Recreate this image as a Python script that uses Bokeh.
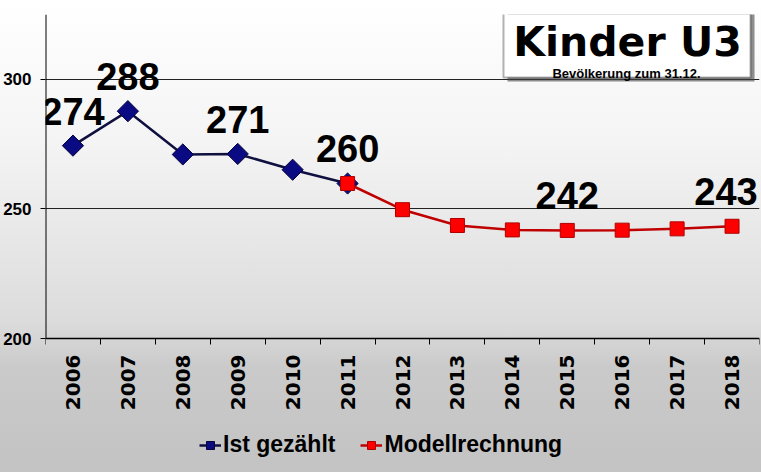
import math
from bokeh.plotting import figure
from bokeh.models import (ColumnDataSource, FixedTicker, Legend, LegendItem,
                          BoxAnnotation, Label, LabelSet, Range1d)
from bokeh.core.properties import value
from bokeh.embed import file_html
from bokeh.resources import INLINE

# ---------------- data ----------------
years_ist = [2006, 2007, 2008, 2009, 2010, 2011]
ist_values = [274.4, 287.7, 271.0, 271.2, 265.1, 259.8]

years_model = [2011, 2012, 2013, 2014, 2015, 2016, 2017, 2018]
model_values = [259.8, 249.7, 243.6, 241.9, 241.7, 241.8, 242.3, 243.3]

label_years = [2006, 2007, 2009, 2011, 2015, 2018]
label_x_offsets = [0, 0, 0, 0, 0, -6]

all_years = [2006, 2007, 2008, 2009, 2010, 2011, 2012,
             2013, 2014, 2015, 2016, 2017, 2018]
y_ticks = [200, 250, 300]
y_grid = [250, 300, 325]
y_axis_min = 200
y_axis_max = 325

title_text = "Kinder U3"
subtitle_text = "Bevölkerung zum 31.12."
legend_ist = "Ist gezählt"
legend_model = "Modellrechnung"

# ---------------- layout ----------------
W, H = 761, 472
top_border = 14
axis_y_px = 338                      # pixel row of the category axis
frame_px = H - top_border            # frame reaches to the bottom of the canvas
plot_px = axis_y_px - top_border
y_low = y_axis_max - (y_axis_max - y_axis_min) * frame_px / plot_px
x0 = all_years[0] - 0.5
x1 = all_years[-1] + 0.5

p = figure(width=W, height=H, output_backend="svg", toolbar_location=None,
           x_range=Range1d(x0, x1), y_range=Range1d(y_low, y_axis_max),
           min_border_left=44, min_border_right=2, min_border_top=top_border,
           min_border_bottom=0)
p.styles = {"background": "linear-gradient(180deg, #ffffff 0%, #f4f4f4 30%, "
                          "#dcdcdc 68%, #cacaca 78%, #c3c3c3 100%)"}
p.background_fill_alpha = 0
p.border_fill_alpha = 0
p.outline_line_color = None

# x axis placed at y = 200 inside the frame
p.xaxis.fixed_location = y_axis_min
p.xaxis.ticker = FixedTicker(ticks=all_years,
                             minor_ticks=[y - 0.5 for y in all_years] + [x1])
p.xaxis.major_tick_line_color = None
p.xaxis.minor_tick_out = 6
p.xaxis.minor_tick_in = 0
p.xaxis.minor_tick_line_color = "black"
p.xaxis.major_label_orientation = math.pi / 2
p.xaxis.major_label_text_font = "DejaVu Sans"
p.xaxis.major_label_text_font_style = "bold"
p.xaxis.major_label_text_font_size = "20px"
p.xaxis.major_label_text_color = "black"
p.xaxis.major_label_standoff = 10
p.xaxis.axis_line_color = "black"
p.xaxis.axis_line_width = 1.5

p.yaxis.ticker = FixedTicker(ticks=y_ticks)
p.yaxis.major_tick_out = 5
p.yaxis.major_tick_in = 0
p.yaxis.major_tick_line_color = "black"
p.yaxis.minor_tick_line_color = None
p.yaxis.major_label_text_font = "Liberation Sans"
p.yaxis.major_label_text_font_style = "bold"
p.yaxis.major_label_text_font_size = "17px"
p.yaxis.major_label_text_color = "black"
p.yaxis.major_label_standoff = 9
p.yaxis.axis_line_color = None

# visible y axis line only between 200 and 325
p.segment(x0=[x0], y0=[y_axis_min], x1=[x0], y1=[y_axis_max],
          line_color="black", line_width=2)

p.xgrid.grid_line_color = None
p.ygrid.ticker = FixedTicker(ticks=y_grid)
p.ygrid.grid_line_color = "#222222"
p.ygrid.grid_line_width = 1.2

# series
src_ist = ColumnDataSource(dict(x=years_ist, y=ist_values))
src_model = ColumnDataSource(dict(x=years_model, y=model_values))

l1 = p.line("x", "y", source=src_ist, line_color="#101040", line_width=2.5)
s1 = p.scatter("x", "y", source=src_ist, marker="square", angle=math.pi / 4,
               size=15, fill_color="#0a0a82", line_color="#05053a", line_width=1)
l2 = p.line("x", "y", source=src_model, line_color="#c00000", line_width=2.5)
s2 = p.scatter("x", "y", source=src_model, marker="square", size=14,
               fill_color="#ff0000", line_color="#b00000", line_width=1)

# data labels
lookup = dict(zip(years_ist, ist_values))
lookup.update(dict(zip(years_model[1:], model_values[1:])))
lab_vals = [lookup[y] for y in label_years]
src_lab = ColumnDataSource(dict(x=label_years, y=lab_vals,
                                t=[str(int(round(v))) for v in lab_vals],
                                xo=label_x_offsets))
p.add_layout(LabelSet(x="x", y="y", text="t", source=src_lab, x_offset="xo",
                      y_offset=21, text_align="center", text_baseline="alphabetic",
                      text_font=value("Liberation Sans"), text_font_style="bold",
                      text_font_size="38px", text_color="black"))

# title box
p.add_layout(BoxAnnotation(left=507, right=754, top=4, bottom=81,
                           left_units="canvas", right_units="canvas",
                           top_units="canvas", bottom_units="canvas",
                           fill_color="#444444", fill_alpha=0.6, line_color=None))
p.add_layout(BoxAnnotation(left=503, right=750, top=0, bottom=77,
                           left_units="canvas", right_units="canvas",
                           top_units="canvas", bottom_units="canvas",
                           fill_color="white", fill_alpha=1,
                           line_color="black", line_width=2))
p.add_layout(Label(x=627, y=41, x_units="canvas", y_units="canvas",
                   text=title_text, text_align="center", text_baseline="alphabetic",
                   text_font="DejaVu Sans", text_font_style="bold",
                   text_font_size="41px", text_color="black"))
p.add_layout(Label(x=626, y=73, x_units="canvas", y_units="canvas",
                   text=subtitle_text, text_align="center", text_baseline="alphabetic",
                   text_font="Liberation Sans", text_font_style="bold",
                   text_font_size="13px", text_color="black"))

# legend inside the frame, below the axis labels
legend = Legend(items=[LegendItem(label=legend_ist, renderers=[l1, s1]),
                       LegendItem(label=legend_model, renderers=[l2, s2])],
                orientation="horizontal", location=(154, 14),
                background_fill_alpha=0, border_line_color=None,
                label_text_font="Liberation Sans", label_text_font_style="bold",
                label_text_font_size="23px", label_text_color="black",
                glyph_width=22, glyph_height=20, label_standoff=2, spacing=25,
                padding=0, margin=0)
p.add_layout(legend)

open("out.html", "w").write(file_html(p, INLINE))
